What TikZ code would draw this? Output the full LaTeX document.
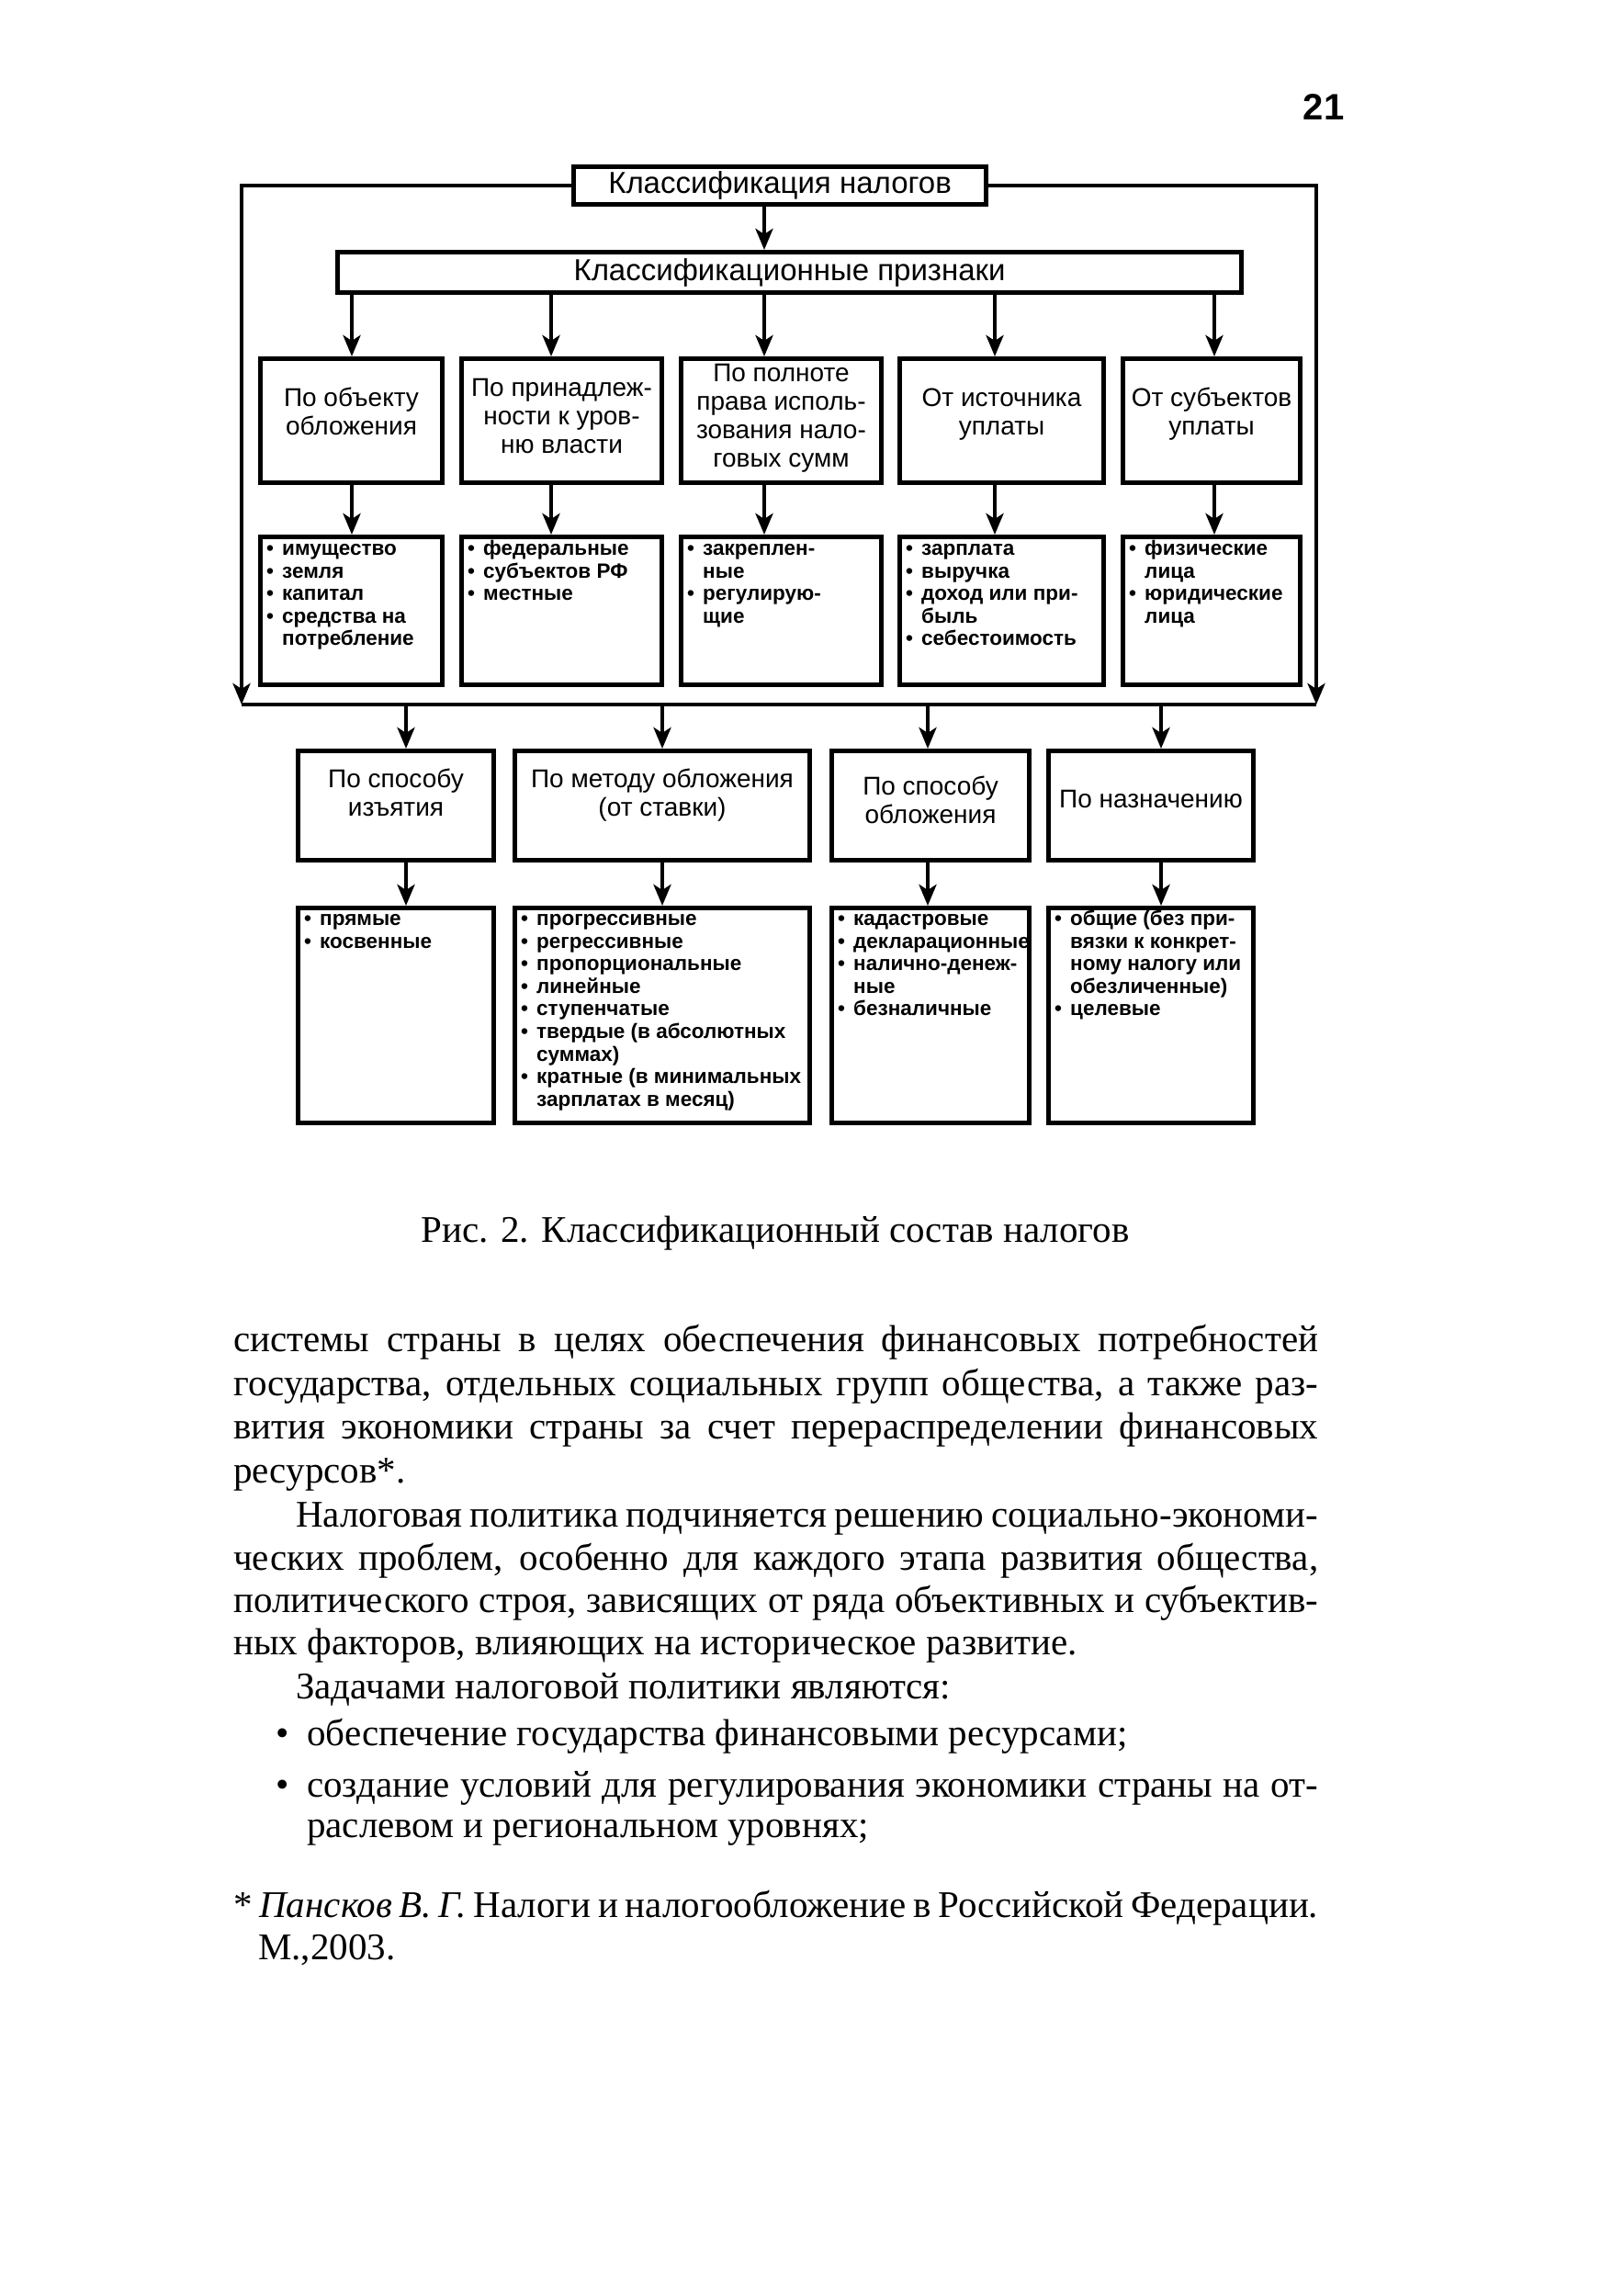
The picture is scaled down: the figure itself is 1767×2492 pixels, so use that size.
\documentclass[tikz,border=0pt]{standalone}
\usepackage{fontspec}
\setmainfont{Liberation Serif}
\newfontfamily\dsans{Liberation Sans}
\usetikzlibrary{arrows.meta}
\newcommand\bul{\makebox[17pt][l]{•}}
\newcommand\cnt{\hspace*{17pt}}
\newcommand\jl[2]{\makebox[#1pt][s]{#2}}
\begin{document}
\begin{tikzpicture}[x=1pt,y=-1pt,
  box/.style={draw, line width=5pt, inner sep=0pt},
  hdr/.style={font=\dsans\fontsize{28}{31}\selectfont, align=center, inner sep=0pt},
  big/.style={font=\dsans\fontsize{33}{36}\selectfont},
  lst/.style={font=\dsans\bfseries\fontsize{22.5}{24.6}\selectfont, align=left, inner sep=0pt, anchor=north west},
  arr/.style={line width=4.8pt, -{Stealth[length=23pt,width=19pt,inset=6pt]}},
  ln/.style={line width=4.8pt},
  body/.style={font=\fontsize{41}{47.5}\selectfont, inner sep=0pt, anchor=base west},
]
\fill[white] (0,0) rectangle (1767,2492);
\useasboundingbox (0,0) rectangle (1767,2492);

% page number
\node[font=\dsans\bfseries\fontsize{40}{44}\selectfont, inner sep=0pt, anchor=base] (pg) at (1441,130) {21};

% top boxes
\node[box, big, minimum width=449pt, minimum height=41pt] (T) at (849,202) {Классификация налогов};
\node[box, big, minimum width=984pt, minimum height=44pt] (S) at (859.5,296.5) {Классификационные признаки};

% row 1
\node[box, minimum width=198pt, minimum height=135pt] (A1) at (382.5,458) {};
\node[box, minimum width=218pt, minimum height=135pt] (A2) at (611.5,458) {};
\node[box, minimum width=218pt, minimum height=135pt] (A3) at (850.5,458) {};
\node[box, minimum width=222pt, minimum height=135pt] (A4) at (1090.5,458) {};
\node[box, minimum width=193pt, minimum height=135pt] (A5) at (1319,458) {};
\node[hdr] (A1t) at (382.5,452) {\strut По объекту\\обложения\strut};
\node[hdr] (A2t) at (611.5,456) {\strut По принадлеж-\\ности к уров-\\ню власти\strut};
\node[hdr] (A3t) at (850.5,456) {\strut По полноте\\права исполь-\\зования нало-\\говых сумм\strut};
\node[hdr] (A4t) at (1090.5,452) {\strut От источника\\уплаты\strut};
\node[hdr] (A5t) at (1319,452) {\strut От субъектов\\уплаты\strut};

% row 2
\node[box, minimum width=198pt, minimum height=161pt] (L1) at (382.5,665) {};
\node[box, minimum width=218pt, minimum height=161pt] (L2) at (611.5,665) {};
\node[box, minimum width=218pt, minimum height=161pt] (L3) at (850.5,665) {};
\node[box, minimum width=222pt, minimum height=161pt] (L4) at (1090.5,665) {};
\node[box, minimum width=193pt, minimum height=161pt] (L5) at (1319,665) {};
\node[lst] (L1t) at ([shift={(9pt,-5pt)}]L1.north west) {\strut\bul имущество\\\bul земля\\\bul капитал\\\bul средства на\\\cnt потребление};
\node[lst] (L2t) at ([shift={(9pt,-5pt)}]L2.north west) {\strut\bul федеральные\\\bul субъектов РФ\\\bul местные};
\node[lst] (L3t) at ([shift={(9pt,-5pt)}]L3.north west) {\strut\bul закреплен-\\\cnt ные\\\bul регулирую-\\\cnt щие};
\node[lst] (L4t) at ([shift={(9pt,-5pt)}]L4.north west) {\strut\bul зарплата\\\bul выручка\\\bul доход или при-\\\cnt быль\\\bul себестоимость};
\node[lst] (L5t) at ([shift={(9pt,-5pt)}]L5.north west) {\strut\bul физические\\\cnt лица\\\bul юридические\\\cnt лица};

% row 3
\node[box, minimum width=213pt, minimum height=119pt] (C1) at (431,877) {};
\node[box, minimum width=321pt, minimum height=119pt] (C2) at (721,877) {};
\node[box, minimum width=215pt, minimum height=119pt] (C3) at (1013,877) {};
\node[box, minimum width=223pt, minimum height=119pt] (C4) at (1253,877) {};
\node[hdr] (C1t) at (431,867) {\strut По способу\\изъятия\strut};
\node[hdr] (C2t) at (721,867) {\strut По методу обложения\\(от ставки)\strut};
\node[hdr] (C3t) at (1013,875) {\strut По способу\\обложения\strut};
\node[hdr] (C4t) at (1253,873) {\strut По назначению\strut};

% row 4
\node[box, minimum width=213pt, minimum height=234pt] (D1) at (431,1105.5) {};
\node[box, minimum width=321pt, minimum height=234pt] (D2) at (721,1105.5) {};
\node[box, minimum width=215pt, minimum height=234pt] (D3) at (1013,1105.5) {};
\node[box, minimum width=223pt, minimum height=234pt] (D4) at (1253,1105.5) {};
\node[lst] (D1t) at ([shift={(9pt,-4pt)}]D1.north west) {\strut\bul прямые\\\bul косвенные};
\node[lst] (D2t) at ([shift={(9pt,-4pt)}]D2.north west) {\strut\bul прогрессивные\\\bul регрессивные\\\bul пропорциональные\\\bul линейные\\\bul ступенчатые\\\bul твердые (в абсолютных\\\cnt суммах)\\\bul кратные (в минимальных\\\cnt зарплатах в месяц)};
\node[lst] (D3t) at ([shift={(9pt,-4pt)}]D3.north west) {\strut\bul кадастровые\\\bul декларационные\\\bul налично-денеж-\\\cnt ные\\\bul безналичные};
\node[lst] (D4t) at ([shift={(9pt,-4pt)}]D4.north west) {\strut\bul общие (без при-\\\cnt вязки к конкрет-\\\cnt ному налогу или\\\cnt обезличенные)\\\bul целевые};

% connector coordinates
\coordinate (xa) at (832,0);
\coordinate (x1) at (383,0);
\coordinate (x2) at (600,0);
\coordinate (x3) at (832,0);
\coordinate (x4) at (1083,0);
\coordinate (x5) at (1322,0);
\coordinate (bl) at (263,767);
\coordinate (br) at (1433,767);
\coordinate (y1) at (442,767);
\coordinate (y2) at (721,767);
\coordinate (y3) at (1010,767);
\coordinate (y4) at (1264,767);

% connectors
\draw[arr] (T.south -| xa) -- (S.north -| xa);
\foreach \i in {1,...,5} {
  \draw[arr] (S.south -| x\i) -- (A\i.north -| x\i);
  \draw[arr] (A\i.south -| x\i) -- (L\i.north -| x\i);
}
\draw[arr] (T.west) -| (bl);
\draw[arr] (T.east) -| (br);
\draw[ln] (bl) -- (br);
\foreach \i in {1,...,4} {
  \draw[arr] (y\i) -- (C\i.north -| y\i);
  \draw[arr] (C\i.south -| y\i) -- (D\i.north -| y\i);
}

% caption
\node[font=\fontsize{41}{47.5}\selectfont, inner sep=0pt, anchor=base] (cap) at (844,1352) {Рис. 2. Классификационный состав налогов};

% body text
\node[body] (p1) at (254,1471) {\jl{1181}{системы страны в целях обеспечения финансовых потребностей}};
\node[body] (p2) at (254,1519) {\jl{1181}{государства, отдельных социальных групп общества, а также раз-}};
\node[body] (p3) at (254,1566) {\jl{1181}{вития экономики страны за счет перераспределении финансовых}};
\node[body] (p4) at (254,1614) {ресурсов*.};
\node[body] (p5) at (322,1662) {\jl{1113}{Налоговая политика подчиняется решению социально-экономи-}};
\node[body] (p6) at (254,1709) {\jl{1181}{ческих проблем, особенно для каждого этапа развития общества,}};
\node[body] (p7) at (254,1755) {\jl{1181}{политического строя, зависящих от ряда объективных и субъектив-}};
\node[body] (p8) at (254,1801) {ных факторов, влияющих на историческое развитие.};
\node[body] (p9) at (322,1849) {Задачами налоговой политики являются:};
\node[body] (b1) at (300,1900) {•};
\node[body] (p10) at (334,1900) {обеспечение государства финансовыми ресурсами;};
\node[body] (b2) at (300,1956) {•};
\node[body] (p11) at (334,1956) {\jl{1101}{создание условий для регулирования экономики страны на от-}};
\node[body] (p12) at (334,2000) {раслевом и региональном уровнях;};
\node[body] (f1) at (254,2087) {\jl{1181}{* \textit{Пансков В. Г.} Налоги и налогообложение в Российской Федерации.}};
\node[body] (f2) at (281,2133) {М.,2003.};
\end{tikzpicture}
\end{document}
